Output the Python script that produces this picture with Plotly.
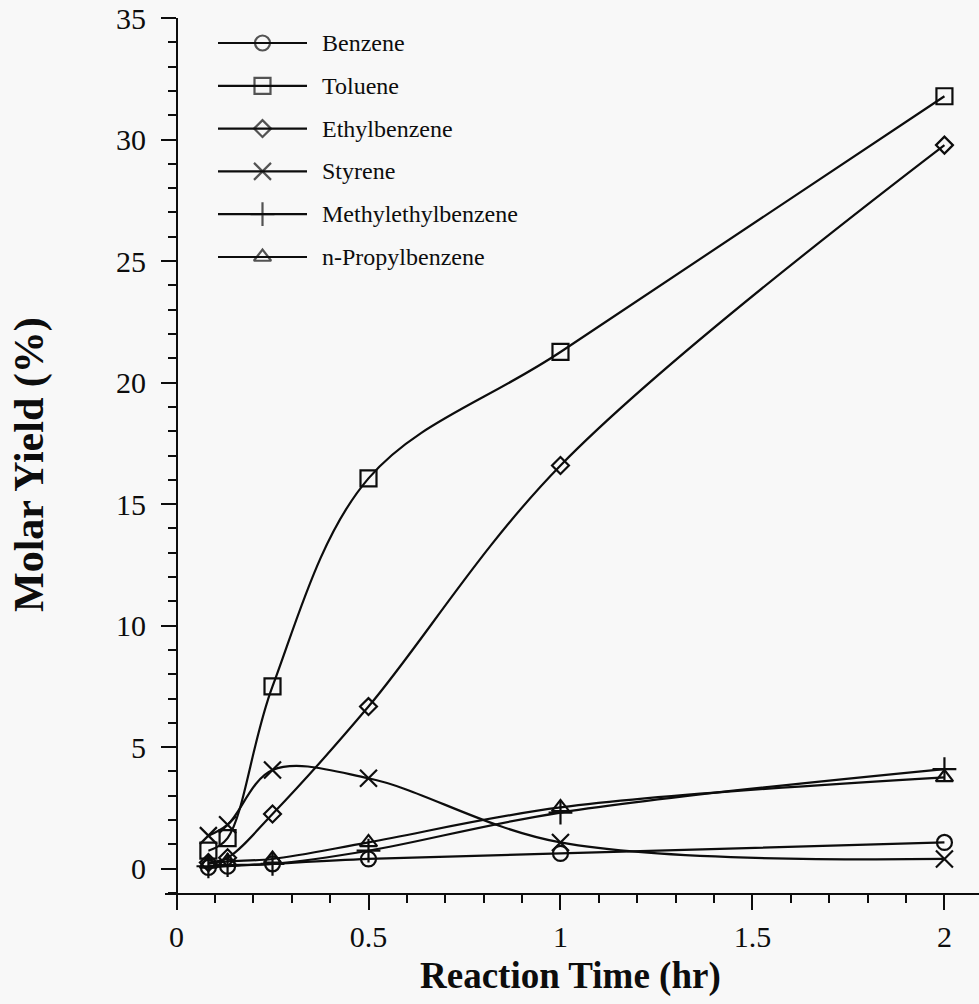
import plotly.graph_objects as go

# ---------------- data ----------------
time_hr = [0.083, 0.133, 0.25, 0.5, 1.0, 2.0]
benzene = [0.05, 0.1, 0.2, 0.4, 0.63, 1.08]
toluene = [0.74, 1.26, 7.5, 16.06, 21.26, 31.78]
ethylbenzene = [0.25, 0.45, 2.25, 6.67, 16.59, 29.77]
styrene = [1.36, 1.81, 4.06, 3.72, 1.08, 0.4]
methylethylbenzene = [0.1, 0.15, 0.2, 0.74, 2.31, 4.1]
n_propylbenzene = [0.2, 0.3, 0.4, 1.08, 2.52, 3.76]

series_names = ["Benzene", "Toluene", "Ethylbenzene", "Styrene",
                "Methylethylbenzene", "n-Propylbenzene"]
series_values = [benzene, toluene, ethylbenzene, styrene,
                 methylethylbenzene, n_propylbenzene]

x_tick_vals = [0, 0.5, 1, 1.5, 2]
x_tick_text = ["0", "0.5", "1", "1.5", "2"]
y_tick_vals = [0, 5, 10, 15, 20, 25, 30, 35]
y_tick_text = ["0", "5", "10", "15", "20", "25", "30", "35"]

x_title = "Reaction Time (hr)"
y_title = "Molar Yield (%)"

# ---------------- style ----------------
W, H = 979, 1004
X_RANGE = [-0.03, 2.09]
Y_RANGE = [-1, 35]
YAXIS_PX = 177            # pixel column of the y axis (x = 0)
PX_PER_X = 383.8
ML = round(YAXIS_PX + X_RANGE[0] * PX_PER_X)
MR, MT, MB = 0, 18, 111
BG = "#f8f8f8"
INK = "#0d0d0d"
FONT = "Liberation Serif"
symbols = ["circle-open", "square-open", "diamond-open", "x-thin-open",
           "cross-thin-open", "triangle-up-open"]
sizes = [15, 16, 13, 17, 17, 15]

PW = W - ML - MR
PH = H - MT - MB
def px_to_paper_x(px):
    return (px - ML) / PW
def px_to_paper_y(py):
    return 1 - (py - MT) / PH

fig = go.Figure()

for name, vals, sym, sz in zip(series_names, series_values, symbols, sizes):
    fig.add_trace(go.Scatter(
        x=time_hr, y=vals, name=name, mode="lines+markers",
        line=dict(color=INK, width=2.2, shape="spline", smoothing=1.0),
        marker=dict(symbol=sym, size=sz, color=INK,
                    line=dict(color=INK, width=2.2)),
        showlegend=False,
    ))

# ---------------- legend drawn on an overlay axis in paper units ----------------
LEG_LINE_X0, LEG_LINE_X1, LEG_TEXT_X = 218, 307, 320
LEG_TOP, LEG_STEP = 43, 42.8
for i, (name, sym, sz) in enumerate(zip(series_names, symbols, sizes)):
    yp = px_to_paper_y(LEG_TOP + i * LEG_STEP)
    x0, x1 = px_to_paper_x(LEG_LINE_X0), px_to_paper_x(LEG_LINE_X1)
    fig.add_trace(go.Scatter(
        x=[x0, (x0 + x1) / 2, x1], y=[yp, yp, yp],
        mode="lines+markers", xaxis="x2", yaxis="y2",
        line=dict(color=INK, width=2.2),
        marker=dict(symbol=sym, size=[0, sz, 0], color=INK,
                    line=dict(color=INK, width=2.2)),
        showlegend=False, hoverinfo="skip",
    ))
    fig.add_annotation(
        x=px_to_paper_x(LEG_TEXT_X), y=yp, xref="paper", yref="paper",
        text=name, showarrow=False, xanchor="left", yanchor="middle",
        font=dict(family=FONT, size=24, color=INK),
    )

# ---------------- axis titles ----------------
fig.add_annotation(
    x=px_to_paper_x(570), y=px_to_paper_y(976), xref="paper", yref="paper",
    text=x_title, showarrow=False, xanchor="center", yanchor="middle",
    font=dict(family=FONT, size=37, color=INK, weight="bold"),
)
fig.add_annotation(
    x=px_to_paper_x(29), y=px_to_paper_y(465), xref="paper", yref="paper",
    text=y_title, showarrow=False, xanchor="center", yanchor="middle",
    textangle=-90,
    font=dict(family=FONT, size=42, color=INK, weight="bold"),
)

fig.update_layout(
    width=W, height=H,
    margin=dict(l=ML, r=MR, t=MT, b=MB, pad=0),
    paper_bgcolor=BG, plot_bgcolor=BG,
    font=dict(family=FONT, color=INK),
    showlegend=False,
    xaxis=dict(
        range=X_RANGE, tickvals=x_tick_vals, ticktext=x_tick_text,
        ticks="outside", ticklen=15, tickwidth=2, tickcolor=INK,
        showline=True, linecolor=INK, linewidth=2,
        showgrid=False, zeroline=False, mirror=False,
        tickfont=dict(family=FONT, size=30, color=INK),
        ticklabelstandoff=1,
        minor=dict(dtick=0.1, tick0=0, ticks="outside", ticklen=8,
                   tickwidth=2, tickcolor=INK, showgrid=False),
    ),
    yaxis=dict(
        range=Y_RANGE, tickvals=y_tick_vals, ticktext=y_tick_text,
        anchor="free", position=px_to_paper_x(YAXIS_PX),
        ticks="outside", ticklen=15, tickwidth=2, tickcolor=INK,
        showline=True, linecolor=INK, linewidth=2,
        showgrid=False, zeroline=False, mirror=False,
        tickfont=dict(family=FONT, size=30, color=INK),
        ticklabelstandoff=9,
        minor=dict(dtick=1, tick0=0, ticks="outside", ticklen=8,
                   tickwidth=2, tickcolor=INK, showgrid=False),
    ),
    xaxis2=dict(range=[0, 1], domain=[0, 1], overlaying="x", anchor="y2",
                visible=False, fixedrange=True),
    yaxis2=dict(range=[0, 1], domain=[0, 1], overlaying="y", anchor="x2",
                visible=False, fixedrange=True),
)

fig.write_html("out.html")
